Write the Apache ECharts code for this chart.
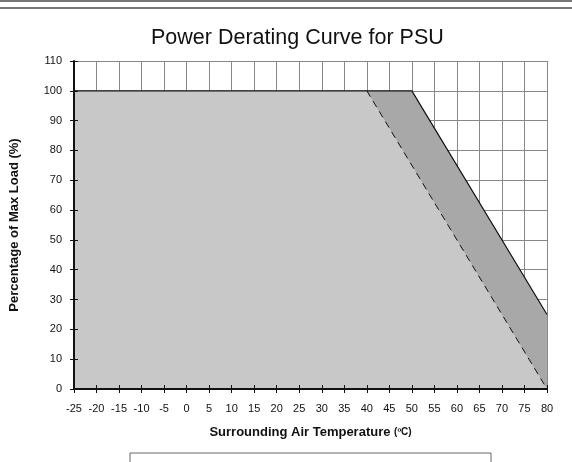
<!DOCTYPE html>
<html>
<head>
<meta charset="utf-8">
<script src="https://cdn.jsdelivr.net/npm/echarts@6/dist/echarts.min.js"></script>
<style>
html,body{margin:0;padding:0;background:#fff;}
#c{width:572px;height:462px;}
</style>
</head>
<body>
<div id="c"></div>
<script>
const titleText = 'Power Derating Curve for PSU';
const xName = 'Surrounding Air Temperature';
const yName = 'Percentage of Max Load (%)';
// Rated curve (solid line) [temperature, load %]
const ratedTemp = [-25, 50, 80];
const ratedLoad = [100, 100, 25];
// Derated curve (dashed line)
const deratedTemp = [-25, 40, 80];
const deratedLoad = [100, 100, 0];

const font = 'Liberation Sans, Arial, sans-serif';
const chart = echarts.init(document.getElementById('c'));
const G = {left: 74, right: 25, top: 61, bottom: 73};

const axisBase = {
  type: 'value', min: -25, max: 80, interval: 5
};
const pts = (xs, ys) => xs.map((t, i) => [t, ys[i]]);
chart.setOption({
  animation: false,
  title: {
    text: titleText, left: 146, top: 22,
    textStyle: {fontFamily: font, fontSize: 21.5, fontWeight: 'normal', color: '#111'}
  },
  graphic: [
    {type: 'line', shape: {x1: 0, y1: 1, x2: 572, y2: 1}, style: {stroke: '#777', lineWidth: 2}},
    {type: 'line', shape: {x1: 0, y1: 8, x2: 572, y2: 8}, style: {stroke: '#777', lineWidth: 2}},
    {type: 'rect', shape: {x: 130, y: 453, width: 361, height: 20}, style: {fill: '#fff', stroke: '#666', lineWidth: 1}}
  ],
  grid: [Object.assign({}, G), Object.assign({}, G)],
  xAxis: [
    Object.assign({}, axisBase, {
      gridIndex: 0,
      name: '{a|' + xName + ' }{b|(ºC)}',
      nameLocation: 'middle', nameGap: 37,
      nameTextStyle: {rich: {
        a: {fontFamily: font, fontSize: 13, fontWeight: 'bold', color: '#111'},
        b: {fontFamily: font, fontSize: 10, fontWeight: 'bold', color: '#111'}
      }},
      axisLine: {show: false, onZero: false},
      axisTick: {show: true, length: 4, lineStyle: {color: '#111'}},
      axisLabel: {fontFamily: font, fontSize: 11, color: '#111', margin: 14},
      splitLine: {show: true, lineStyle: {color: '#888', width: 1}}
    }),
    Object.assign({}, axisBase, {
      gridIndex: 1, z: 10,
      axisLine: {show: true, onZero: false, lineStyle: {color: '#111', width: 2}},
      axisTick: {show: true, inside: true, length: 4, lineStyle: {color: '#111', width: 1}},
      axisLabel: {show: false}, splitLine: {show: false}
    })
  ],
  yAxis: [
    {
      type: 'value', min: 0, max: 110, interval: 10, gridIndex: 0,
      name: yName, nameLocation: 'middle', nameGap: 53,
      nameTextStyle: {fontFamily: font, fontSize: 13, fontWeight: 'bold', color: '#111'},
      axisLine: {show: false, onZero: false},
      axisTick: {show: true, length: 4, lineStyle: {color: '#111'}},
      axisLabel: {fontFamily: font, fontSize: 11, color: '#111', margin: 12},
      splitLine: {show: true, lineStyle: {color: '#888', width: 1}}
    },
    {
      type: 'value', min: 0, max: 110, interval: 10, gridIndex: 1, z: 10,
      axisLine: {show: true, onZero: false, lineStyle: {color: '#111', width: 2}},
      axisTick: {show: true, inside: true, length: 4, lineStyle: {color: '#111'}},
      axisLabel: {show: false}, splitLine: {show: false}
    }
  ],
  series: [
    {
      type: 'line', xAxisIndex: 0, yAxisIndex: 0, z: 2,
      data: pts(ratedTemp, ratedLoad),
      symbol: 'none',
      lineStyle: {width: 0},
      areaStyle: {color: '#a8a8a8', opacity: 1}
    },
    {
      type: 'line', xAxisIndex: 0, yAxisIndex: 0, z: 3,
      data: pts(deratedTemp, deratedLoad),
      symbol: 'none',
      lineStyle: {width: 0},
      areaStyle: {color: '#c8c8c8', opacity: 1}
    },
    {
      type: 'line', xAxisIndex: 0, yAxisIndex: 0, z: 4,
      data: pts(deratedTemp.slice(1), deratedLoad.slice(1)),
      symbol: 'none',
      lineStyle: {color: '#111', width: 1, type: [7, 5]}
    },
    {
      type: 'line', xAxisIndex: 0, yAxisIndex: 0, z: 5,
      data: pts(ratedTemp, ratedLoad),
      symbol: 'none',
      lineStyle: {color: '#111', width: 1.2}
    }
  ]
});
</script>
</body>
</html>
